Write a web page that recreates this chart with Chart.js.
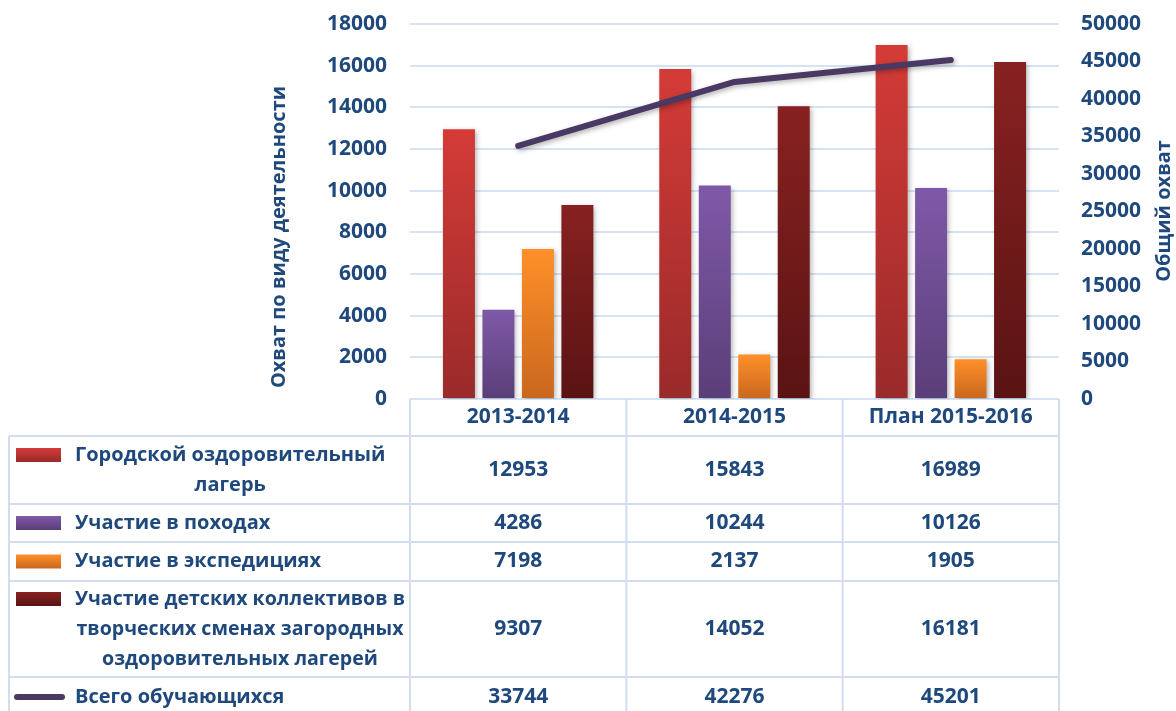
<!DOCTYPE html>
<html>
<head>
<meta charset="utf-8">
<script src="https://cdn.jsdelivr.net/npm/chart.js@4.4.1/dist/chart.umd.min.js"></script>
<style>
  html, body { margin: 0; padding: 0; background: #fff; }
  #wrap { width: 1176px; height: 711px; }
</style>
</head>
<body>
<div id="wrap"><canvas id="chart" width="1176" height="711"></canvas></div>
<script>
// --- data ---
const categories = ['2013-2014', '2014-2015', 'План 2015-2016'];
const campValues = [12953, 15843, 16989];
const hikeValues = [4286, 10244, 10126];
const expeditionValues = [7198, 2137, 1905];
const creativeValues = [9307, 14052, 16181];
const totalValues = [33744, 42276, 45201];

const seriesLabels = [
  ['Городской оздоровительный', 'лагерь'],
  ['Участие в походах'],
  ['Участие в экспедициях'],
  ['Участие детских коллективов в', 'творческих сменах загородных', 'оздоровительных лагерей'],
  ['Всего обучающихся']
];
const leftTitle = 'Охват по виду деятельности';
const rightTitle = 'Общий охват';

const textColor = '#1f497d';
const gridColor = '#d7e3f4';
const FONT = '"Open Sans", "Noto Sans", sans-serif';

// top / bottom gradient colours for each bar series
const barColors = [
  ['#d43b37', '#9a2a2a'],
  ['#7f59a8', '#5a3e78'],
  ['#ff9029', '#c9671e'],
  ['#882121', '#5a1313']
];
const lineColor = '#4a3963';

// gradient runs over each bar's own height
function gradient(idx) {
  return (context) => {
    const { chart } = context;
    const area = chart.chartArea;
    if (!area || context.raw == null) return barColors[idx][0];
    const y = chart.scales.y;
    const g = chart.ctx.createLinearGradient(0, y.getPixelForValue(context.raw), 0, area.bottom);
    g.addColorStop(0, barColors[idx][0]);
    g.addColorStop(1, barColors[idx][1]);
    return g;
  };
}

function swatchFill(ctx, idx, x, y, w, h) {
  const g = ctx.createLinearGradient(0, y, 0, y + h);
  g.addColorStop(0, barColors[idx][0]);
  g.addColorStop(1, barColors[idx][1]);
  ctx.fillStyle = g;
  ctx.fillRect(x, y, w, h);
}

// shadow under bars and line
const shadowPlugin = {
  id: 'shadow',
  beforeDatasetDraw(chart) {
    const ctx = chart.ctx;
    ctx.save();
    ctx.shadowColor = 'rgba(0,0,0,0.3)';
    ctx.shadowBlur = 5;
    ctx.shadowOffsetX = 2;
    ctx.shadowOffsetY = 2;
  },
  afterDatasetDraw(chart) {
    chart.ctx.restore();
  }
};

// axis titles + data table under the plot
const tablePlugin = {
  id: 'dataTable',
  afterDraw(chart) {
    const { ctx, chartArea, scales: { x } } = chart;
    const rows = [campValues, hikeValues, expeditionValues, creativeValues, totalValues];
    const rowHeights = [68, 38, 39, 96, 40];
    const headerH = 37;
    const tableLeft = 9;
    const left = chartArea.left, right = chartArea.right;
    const top = chartArea.bottom;
    const step = (right - left) / categories.length;

    ctx.save();

    // axis titles
    ctx.fillStyle = textColor;
    ctx.font = 'bold 20px ' + FONT;
    ctx.textAlign = 'center';
    ctx.textBaseline = 'middle';
    ctx.save();
    ctx.translate(279, 237);
    ctx.rotate(-Math.PI / 2);
    ctx.fillText(leftTitle, 0, 0);
    ctx.restore();
    ctx.save();
    ctx.translate(1164, 211);
    ctx.rotate(-Math.PI / 2);
    ctx.fillText(rightTitle, 0, 0);
    ctx.restore();

    // grid lines of the table
    ctx.strokeStyle = '#d2def0';
    ctx.lineWidth = 2;
    let yEdges = [top, top + headerH];
    rowHeights.forEach(h => yEdges.push(yEdges[yEdges.length - 1] + h));
    ctx.beginPath();
    for (let i = 0; i <= categories.length; i++) {
      const xx = left + step * i;
      ctx.moveTo(xx, top);
      ctx.lineTo(xx, 711);
    }
    ctx.moveTo(tableLeft, yEdges[1]);
    ctx.lineTo(tableLeft, 711);
    for (let i = 1; i < yEdges.length; i++) {
      ctx.moveTo(tableLeft, yEdges[i]);
      ctx.lineTo(right, yEdges[i]);
    }
    ctx.stroke();

    // header
    ctx.fillStyle = textColor;
    ctx.font = 'bold 21px ' + FONT;
    categories.forEach((c, i) => {
      ctx.fillText(c, x.getPixelForValue(i), top + headerH / 2);
    });

    // rows
    for (let r = 0; r < rows.length; r++) {
      const y0 = yEdges[r + 1], y1 = yEdges[r + 2];
      const cy = (y0 + y1) / 2;
      ctx.font = 'bold 21px ' + FONT;
      ctx.textAlign = 'center';
      ctx.fillStyle = textColor;
      rows[r].forEach((v, i) => {
        ctx.fillText(String(v), x.getPixelForValue(i), cy);
      });

      // label block
      const lines = seriesLabels[r];
      const lh = 30;
      const firstY = cy - (lines.length - 1) * lh / 2;
      ctx.font = 'bold 20px ' + FONT;
      const maxW = Math.max(...lines.map(l => ctx.measureText(l).width));
      const avail = left - 5 - 75;
      const sx = Math.min(1, avail / maxW);
      const blockCenter = 75 + maxW * sx / 2;
      lines.forEach((l, k) => {
        ctx.save();
        ctx.translate(blockCenter, firstY + k * lh);
        ctx.scale(sx, 1);
        ctx.fillText(l, 0, 0);
        ctx.restore();
      });

      // swatch
      if (r < 4) {
        swatchFill(ctx, r, 16, firstY - 7, 45, 14);
      } else {
        ctx.strokeStyle = lineColor;
        ctx.lineWidth = 6;
        ctx.lineCap = 'round';
        ctx.beginPath();
        ctx.moveTo(17, firstY);
        ctx.lineTo(62, firstY);
        ctx.stroke();
      }
    }
    ctx.restore();
  }
};

const barDefaults = {
  type: 'bar',
  yAxisID: 'y',
  order: 1,
  categoryPercentage: 0.73,
  barPercentage: 0.81
};

const plainTick = (v) => String(v);

// fixed axis width, and don't let tick padding push the plot down
function fitAxis(width) {
  return (scale) => {
    scale.width = width;
    scale.paddingTop = 12;
    scale.paddingBottom = 12;
  };
}

new Chart(document.getElementById('chart').getContext('2d'), {
  data: {
    labels: categories,
    datasets: [
      {
        type: 'line',
        label: 'Всего обучающихся',
        data: totalValues,
        yAxisID: 'y1',
        order: 0,
        borderColor: lineColor,
        borderWidth: 6,
        borderCapStyle: 'round',
        borderJoinStyle: 'round',
        pointRadius: 0,
        tension: 0,
        fill: false
      },
      { ...barDefaults, label: 'Городской оздоровительный лагерь', data: campValues, backgroundColor: gradient(0) },
      { ...barDefaults, label: 'Участие в походах', data: hikeValues, backgroundColor: gradient(1) },
      { ...barDefaults, label: 'Участие в экспедициях', data: expeditionValues, backgroundColor: gradient(2) },
      { ...barDefaults, label: 'Участие детских коллективов в творческих сменах загородных оздоровительных лагерей', data: creativeValues, backgroundColor: gradient(3) }
    ]
  },
  options: {
    responsive: false,
    animation: false,
    layout: { padding: { top: 24, bottom: 312, left: 0, right: 0 } },
    plugins: {
      legend: { display: false },
      tooltip: { enabled: false }
    },
    scales: {
      x: {
        display: false,
        offset: true
      },
      y: {
        position: 'left',
        min: 0,
        max: 18000,
        ticks: {
          stepSize: 2000,
          color: textColor,
          padding: 23,
          callback: plainTick,
          font: { family: FONT, size: 21, weight: 'bold' }
        },
        grid: { color: gridColor, lineWidth: 2, drawTicks: false },
        border: { display: false },
        afterFit: fitAxis(410)
      },
      y1: {
        position: 'right',
        min: 0,
        max: 50000,
        ticks: {
          stepSize: 5000,
          color: textColor,
          padding: 22,
          callback: plainTick,
          font: { family: FONT, size: 21, weight: 'bold' }
        },
        grid: { display: false, drawTicks: false },
        border: { display: false },
        afterFit: fitAxis(117)
      }
    }
  },
  plugins: [shadowPlugin, tablePlugin]
});
</script>
</body>
</html>
